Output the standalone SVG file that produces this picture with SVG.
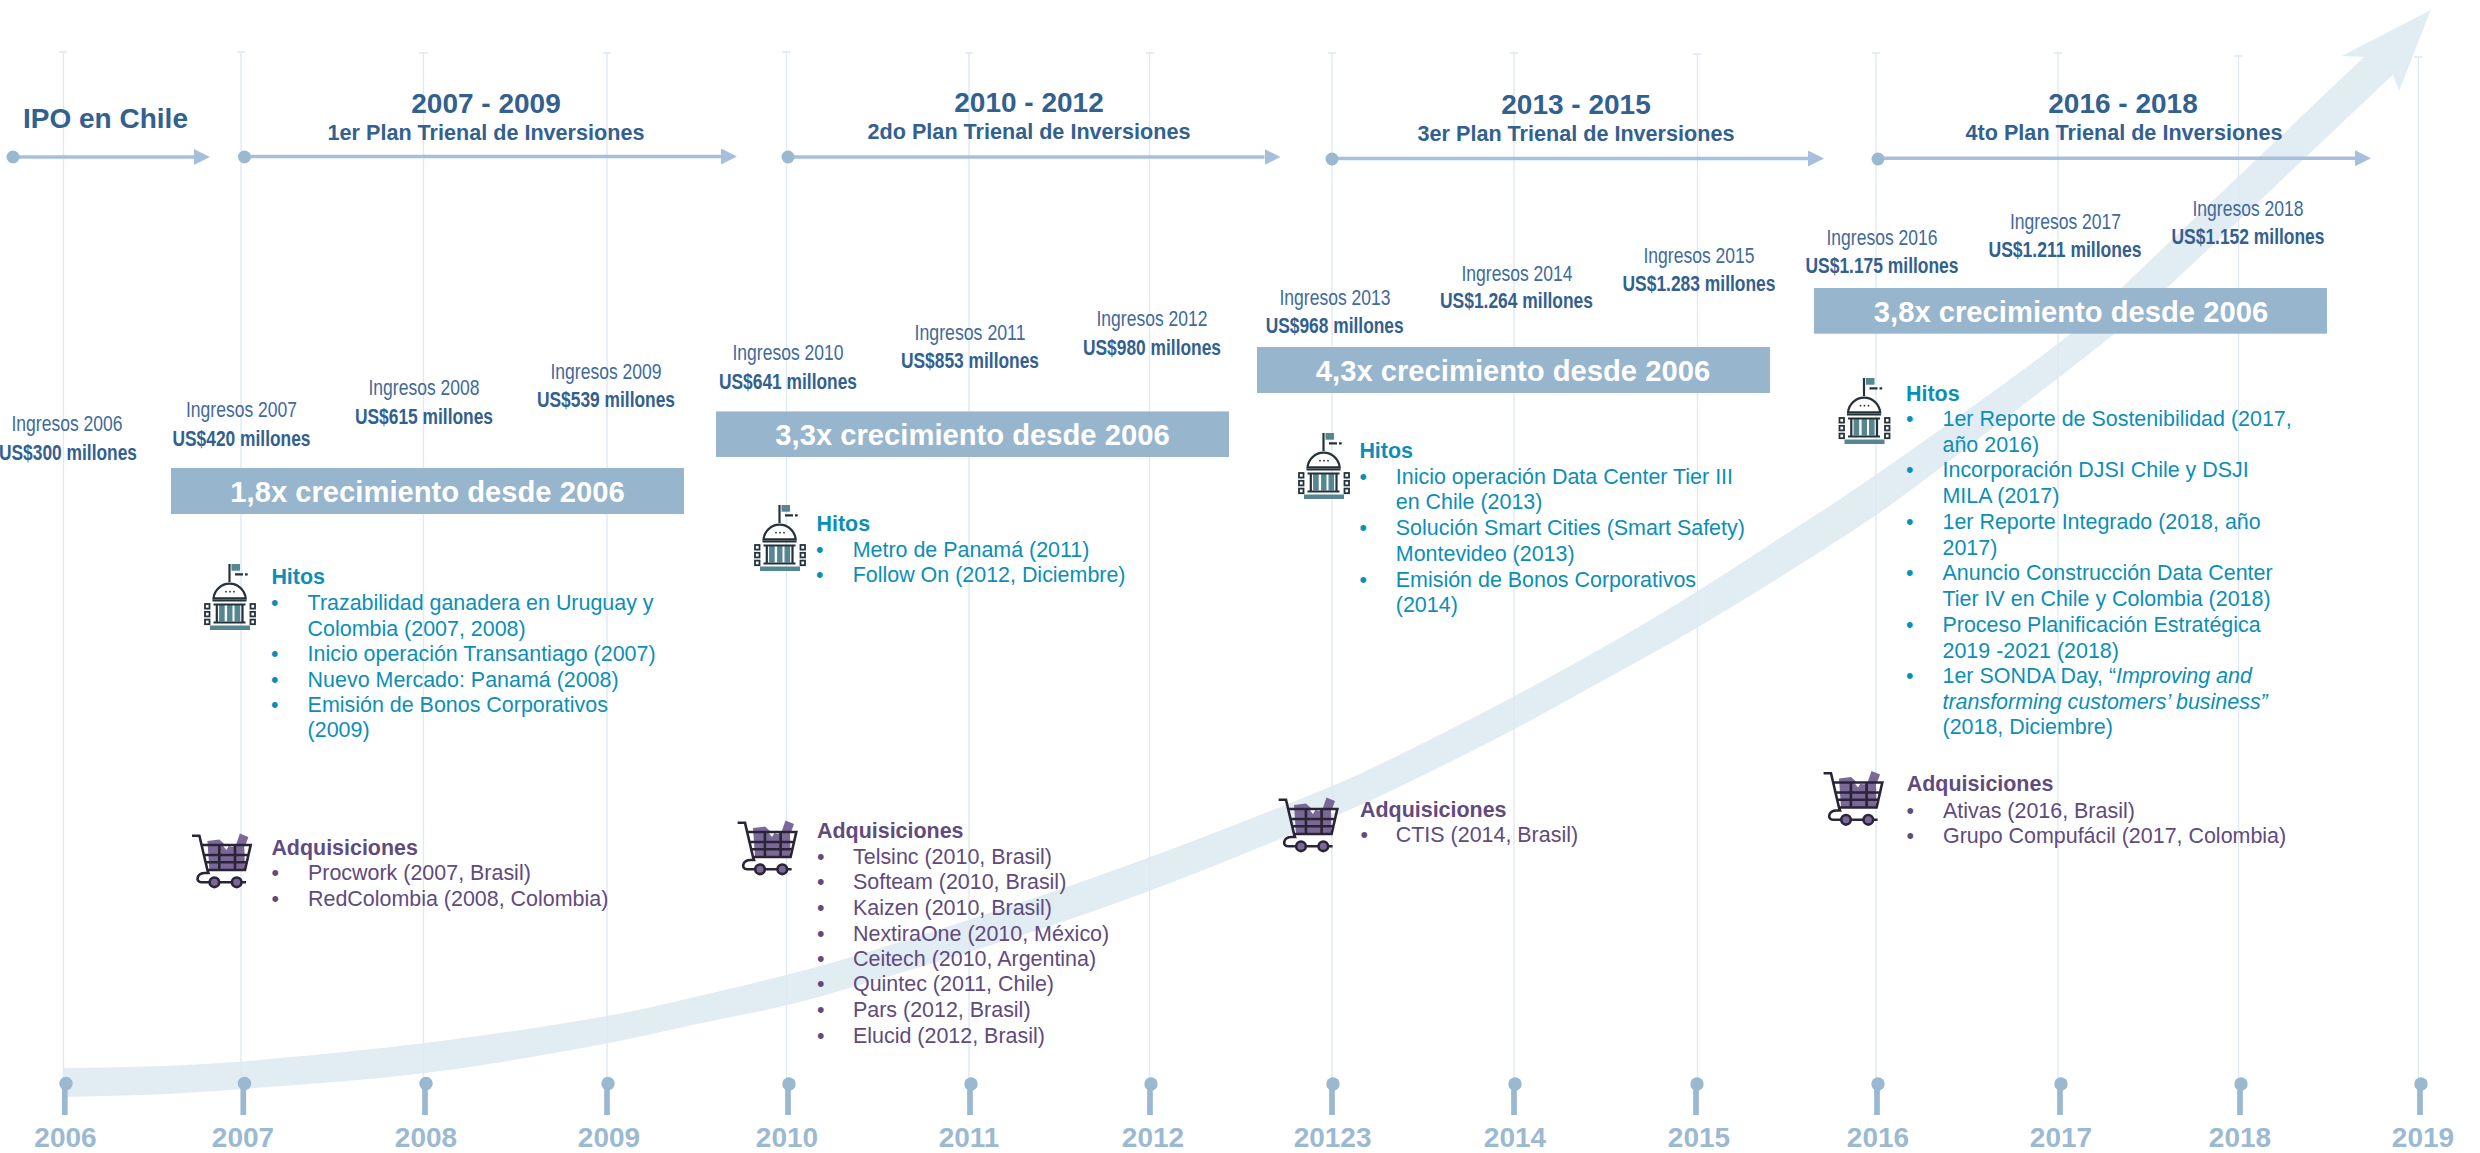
<svg xmlns="http://www.w3.org/2000/svg" xmlns:xlink="http://www.w3.org/1999/xlink" width="2480" height="1153" viewBox="0 0 2480 1153">
<style>
text{font-family:"Liberation Sans",Arial,sans-serif}
.t{font-size:28px;font-weight:700;fill:#32608f;text-anchor:middle}
.p{font-size:21.6px;font-weight:700;fill:#32608f;text-anchor:middle}
.y{font-size:28px;font-weight:700;fill:#9cb9d2;text-anchor:middle}
.i{font-size:21.5px;fill:#3f6a9a;text-anchor:middle}
.v{font-size:22px;font-weight:700;fill:#32608f;text-anchor:middle}
.g{font-size:29.2px;font-weight:700;fill:#fff;text-anchor:middle}
.bn{fill:#97b5cd}
.hh{font-size:21.45px;font-weight:700;fill:#0c8eb7}
.hb{font-size:21.45px;fill:#0c8eb7}
.ah{font-size:21.45px;font-weight:700;fill:#604a7e}
.ab{font-size:21.45px;fill:#604a7e}
.vl{stroke:#dfe8f3;stroke-width:1.4;fill:none}
.st{stroke:#9ab8d0;stroke-width:5.7}
.dot{fill:#9ab8d0}
.ar{stroke:#a5bfdc;stroke-width:3.6;fill:none;marker-end:url(#head)}
.d{stroke:#24323a;stroke-width:2.2;fill:none}
.df{fill:#24323a}
.te{fill:#568690}
.pu{fill:#7a6896}
.c{stroke:#2a2438;stroke-width:2.6;fill:none}
</style>
<defs>
<marker id="head" markerUnits="userSpaceOnUse" markerWidth="16" markerHeight="16" refX="0" refY="8" orient="auto"><path d="M0 0L16 8L0 16Z" fill="#a5bfdc"/></marker>
<g id="bld">
<rect class="te" x="27" y="0" width="8.5" height="6.7"/>
<path class="d" d="M25 0V18M30.5 10.3H38.5M40.5 10.3H43.2"/>
<path d="M9 34.3A16.2 16.5 0 0 1 41.2 34.3Z" fill="#fff" stroke="#24323a" stroke-width="2.2"/>
<circle class="df" cx="21.5" cy="27.7" r=".9"/><circle class="df" cx="25.5" cy="27.7" r=".9"/><circle class="df" cx="29.5" cy="27.7" r=".9"/>
<rect class="te" x="14.6" y="41" width="5.6" height="16.5"/><rect class="te" x="22.6" y="41" width="5.4" height="16.5"/><rect class="te" x="30" y="41" width="5.6" height="16.5"/>
<path class="d" d="M8 36.5H42M9 40.5H41M12.3 40.5V58M38 40.5V58M9 58.5H41"/>
<rect class="te" x="5.5" y="61.5" width="40" height="4.5"/>
<g fill="none" stroke="#24323a" stroke-width="1.8"><rect x=".5" y="40" width="4.5" height="4.6"/><rect x=".5" y="47.8" width="4.5" height="4.6"/><rect x=".5" y="55.6" width="4.5" height="4.6"/><rect x="46" y="40" width="4.5" height="4.6"/><rect x="46" y="47.8" width="4.5" height="4.6"/><rect x="46" y="55.6" width="4.5" height="4.6"/></g>
</g>
<g id="cart">
<path class="pu" d="M15 8L27 6.5L33 12L40 14L43.5 12L47.5 .5L56 4L52 15L52.5 37H17Z"/>
<path d="M30 12L37 12L34 17ZM52 12H57L56 16L52 16Z" fill="#fff"/>
<path class="c" d="M-.4 2.7H7L15 37H52.6L58.3 12H8.5M11.5 22H55.6M13.4 29.3H54M26.9 12V37M42.6 12V37M15 37L16 40H12.5C4 40 3 49.3 9 49.3H53.6"/>
<circle class="pu" cx="22" cy="49.3" r="4.8" stroke="#2a2438" stroke-width="2.6"/>
<circle class="pu" cx="44.3" cy="49.3" r="4.8" stroke="#2a2438" stroke-width="2.6"/>
</g>
</defs>
<rect width="2480" height="1153" fill="#fff"/>
<path id="growth-arrow" fill="#e2ecf3" d="M64 1068 Q150 1067 196.5 1064.5 Q243 1062 334.5 1053 Q426 1044 517 1030.5 Q608 1017 654 1006.5 Q700 996 743.5 985.5 Q787 975 818.5 966.5 Q850 958 925 934 Q1000 910 1075 884 Q1150 858 1241 822.5 Q1332 787 1366 771 Q1400 755 1457 726 Q1514 697 1565.5 668.5 Q1617 640 1657 616 Q1697 592 1738.5 565 Q1780 538 1825 509 Q1870 480 1972.5 406.5 Q2075 333 2098 310.5 Q2121 288 2364 57 L2341.7 56 L2430.7 10 L2399.3 90.7 L2392.7 74.7 Q2168 288 2140 312.5 Q2112 337 2018.5 408.5 Q1925 480 1892.5 503.5 Q1860 527 1778.5 578 Q1697 629 1648.5 655.5 Q1600 682 1557 706 Q1514 730 1457 758.5 Q1400 787 1366 802.5 Q1332 818 1241 855 Q1150 892 1075 917.5 Q1000 943 925 965.5 Q850 988 818.5 997 Q787 1006 743.5 1014.5 Q700 1023 654 1033.5 Q608 1044 517 1059.5 Q426 1075 334.5 1082 Q243 1089 196.5 1092.3 Q150 1095.5 64 1097 Z"/>
<g id="year-gridlines">
<path class="vl" d="M59 52H67M63.5 52V1080M237 52H245M241 52V1080M419 53H428M423.5 53V1080M603 53H611M607 53V1080M782 52H790M786.5 52V1080M965 53H973M969 53V1080M1146 53H1154M1149.5 53V1080M1328 53H1336M1332 53V1080M1510 53H1518M1514 53V1080M1693 54H1701M1697.5 54V1080M1872 53H1880M1876 53V1080M2054 53H2062M2058 53V1080M2234 56H2242M2238.5 56V1080M2414 57H2422.5M2418.3 57V1080"/>
</g>
<g id="connectors">
<line class="ar" x1="13" y1="157" x2="194" y2="157"/>
<line class="ar" x1="244.5" y1="156.5" x2="721" y2="156.5"/>
<line class="ar" x1="788" y1="157" x2="1264.5" y2="157"/>
<line class="ar" x1="1332" y1="158.5" x2="1808" y2="158.5"/>
<line class="ar" x1="1878" y1="158.3" x2="2355" y2="158.3"/>
<circle class="dot" cx="13" cy="157" r="6.5"/><circle class="dot" cx="244.5" cy="157" r="6.5"/><circle class="dot" cx="788" cy="157" r="6.5"/><circle class="dot" cx="1332" cy="159" r="6.5"/><circle class="dot" cx="1878" cy="159" r="6.5"/>
</g>
<g id="plan-labels">
<text class="t" x="105.5" y="128">IPO en Chile</text>
<text class="t" x="486" y="112.5">2007 - 2009</text><text class="p" x="486" y="140">1er Plan Trienal de Inversiones</text>
<text class="t" x="1029" y="112">2010 - 2012</text><text class="p" x="1029" y="139">2do Plan Trienal de Inversiones</text>
<text class="t" x="1576" y="113.8">2013 - 2015</text><text class="p" x="1576" y="141">3er Plan Trienal de Inversiones</text>
<text class="t" x="2123" y="112.7">2016 - 2018</text><text class="p" x="2124" y="140">4to Plan Trienal de Inversiones</text>
</g>
<g id="years">
<g id="y2006"><circle class="dot" cx="66" cy="1083.5" r="6.7"/><line class="st" x1="64.8" y1="1084" x2="64.8" y2="1115"/><text class="y" x="65.5" y="1147">2006</text></g>
<g id="y2007"><circle class="dot" cx="244.5" cy="1083.5" r="6.7"/><line class="st" x1="243.3" y1="1084" x2="243.3" y2="1115"/><text class="y" x="243" y="1147">2007</text></g>
<g id="y2008"><circle class="dot" cx="426" cy="1083.5" r="6.7"/><line class="st" x1="425" y1="1084" x2="425" y2="1115"/><text class="y" x="426" y="1147">2008</text></g>
<g id="y2009"><circle class="dot" cx="608" cy="1083.5" r="6.7"/><line class="st" x1="607" y1="1084" x2="607" y2="1115"/><text class="y" x="609" y="1147">2009</text></g>
<g id="y2010"><circle class="dot" cx="789" cy="1084" r="6.7"/><line class="st" x1="788" y1="1084" x2="788" y2="1115"/><text class="y" x="787" y="1147">2010</text></g>
<g id="y2011"><circle class="dot" cx="971" cy="1084" r="6.7"/><line class="st" x1="970" y1="1084" x2="970" y2="1115"/><text class="y" x="969" y="1147">2011</text></g>
<g id="y2012"><circle class="dot" cx="1151" cy="1084" r="6.7"/><line class="st" x1="1150" y1="1084" x2="1150" y2="1115"/><text class="y" x="1153" y="1147">2012</text></g>
<g id="y2013"><circle class="dot" cx="1333" cy="1084" r="6.7"/><line class="st" x1="1332" y1="1084" x2="1332" y2="1115"/><text class="y" x="1332.6" y="1147">20123</text></g>
<g id="y2014"><circle class="dot" cx="1515" cy="1084" r="6.7"/><line class="st" x1="1514" y1="1084" x2="1514" y2="1115"/><text class="y" x="1515" y="1147">2014</text></g>
<g id="y2015"><circle class="dot" cx="1697" cy="1084" r="6.7"/><line class="st" x1="1696" y1="1084" x2="1696" y2="1115"/><text class="y" x="1699" y="1147">2015</text></g>
<g id="y2016"><circle class="dot" cx="1878" cy="1084" r="6.7"/><line class="st" x1="1877" y1="1084" x2="1877" y2="1115"/><text class="y" x="1878" y="1147">2016</text></g>
<g id="y2017"><circle class="dot" cx="2061" cy="1084" r="6.7"/><line class="st" x1="2060" y1="1084" x2="2060" y2="1115"/><text class="y" x="2061" y="1147">2017</text></g>
<g id="y2018"><circle class="dot" cx="2241" cy="1084" r="6.7"/><line class="st" x1="2240" y1="1084" x2="2240" y2="1115"/><text class="y" x="2240" y="1147">2018</text></g>
<g id="y2019"><circle class="dot" cx="2421" cy="1084" r="6.7"/><line class="st" x1="2420" y1="1084" x2="2420" y2="1115"/><text class="y" x="2423" y="1147">2019</text></g>
</g>
<g id="revenues">
<g id="r2006"><text class="i" x="67" y="431.4" textLength="111" lengthAdjust="spacingAndGlyphs">Ingresos 2006</text><text class="v" x="68" y="460" textLength="138" lengthAdjust="spacingAndGlyphs">US$300 millones</text></g>
<g id="r2007"><text class="i" x="241.5" y="417" textLength="111" lengthAdjust="spacingAndGlyphs">Ingresos 2007</text><text class="v" x="241.5" y="446.4" textLength="138" lengthAdjust="spacingAndGlyphs">US$420 millones</text></g>
<g id="r2008"><text class="i" x="424" y="395" textLength="111" lengthAdjust="spacingAndGlyphs">Ingresos 2008</text><text class="v" x="424" y="424" textLength="138" lengthAdjust="spacingAndGlyphs">US$615 millones</text></g>
<g id="r2009"><text class="i" x="606" y="379" textLength="111" lengthAdjust="spacingAndGlyphs">Ingresos 2009</text><text class="v" x="606" y="407" textLength="138" lengthAdjust="spacingAndGlyphs">US$539 millones</text></g>
<g id="r2010"><text class="i" x="788" y="360" textLength="111" lengthAdjust="spacingAndGlyphs">Ingresos 2010</text><text class="v" x="788" y="388.5" textLength="138" lengthAdjust="spacingAndGlyphs">US$641 millones</text></g>
<g id="r2011"><text class="i" x="970" y="339.5" textLength="111" lengthAdjust="spacingAndGlyphs">Ingresos 2011</text><text class="v" x="970" y="368" textLength="138" lengthAdjust="spacingAndGlyphs">US$853 millones</text></g>
<g id="r2012"><text class="i" x="1152" y="326" textLength="111" lengthAdjust="spacingAndGlyphs">Ingresos 2012</text><text class="v" x="1152" y="355" textLength="138" lengthAdjust="spacingAndGlyphs">US$980 millones</text></g>
<g id="r2013"><text class="i" x="1335" y="305" textLength="111" lengthAdjust="spacingAndGlyphs">Ingresos 2013</text><text class="v" x="1334.7" y="333" textLength="138" lengthAdjust="spacingAndGlyphs">US$968 millones</text></g>
<g id="r2014"><text class="i" x="1517" y="280.6" textLength="111" lengthAdjust="spacingAndGlyphs">Ingresos 2014</text><text class="v" x="1516.5" y="308" textLength="153" lengthAdjust="spacingAndGlyphs">US$1.264 millones</text></g>
<g id="r2015"><text class="i" x="1699" y="263" textLength="111" lengthAdjust="spacingAndGlyphs">Ingresos 2015</text><text class="v" x="1699" y="290.5" textLength="153" lengthAdjust="spacingAndGlyphs">US$1.283 millones</text></g>
<g id="r2016"><text class="i" x="1882" y="245" textLength="111" lengthAdjust="spacingAndGlyphs">Ingresos 2016</text><text class="v" x="1882" y="272.7" textLength="153" lengthAdjust="spacingAndGlyphs">US$1.175 millones</text></g>
<g id="r2017"><text class="i" x="2065.5" y="229" textLength="111" lengthAdjust="spacingAndGlyphs">Ingresos 2017</text><text class="v" x="2065" y="256.7" textLength="153" lengthAdjust="spacingAndGlyphs">US$1.211 millones</text></g>
<g id="r2018"><text class="i" x="2248" y="216" textLength="111" lengthAdjust="spacingAndGlyphs">Ingresos 2018</text><text class="v" x="2248" y="244" textLength="153" lengthAdjust="spacingAndGlyphs">US$1.152 millones</text></g>
</g>
<g id="banner-1"><rect class="bn" x="171" y="468" width="513" height="46"/><text class="g" x="427.5" y="502">1,8x crecimiento desde 2006</text></g>
<g id="banner-2"><rect class="bn" x="716" y="411.4" width="513" height="45.6"/><text class="g" x="972.5" y="445">3,3x crecimiento desde 2006</text></g>
<g id="banner-3"><rect class="bn" x="1257" y="347" width="513" height="46"/><text class="g" x="1513" y="380.5">4,3x crecimiento desde 2006</text></g>
<g id="banner-4"><rect class="bn" x="1814" y="288" width="513" height="45.7"/><text class="g" x="2071" y="321.7">3,8x crecimiento desde 2006</text></g>
<g id="hitos-1"><use xlink:href="#bld" href="#bld" x="204.5" y="564"/>
<text class="hh" x="271.4" y="584">Hitos</text>
<text class="hb"><tspan x="271" y="609.7">•</tspan><tspan x="307.6">Trazabilidad ganadera en Uruguay y</tspan></text>
<text class="hb" x="307.6" y="635.6">Colombia (2007, 2008)</text>
<text class="hb"><tspan x="271" y="661">•</tspan><tspan x="307.6">Inicio operación Transantiago (2007)</tspan></text>
<text class="hb"><tspan x="271" y="686.6">•</tspan><tspan x="307.6">Nuevo Mercado: Panamá (2008)</tspan></text>
<text class="hb"><tspan x="271" y="712.2">•</tspan><tspan x="307.6">Emisión de Bonos Corporativos</tspan></text>
<text class="hb" x="307.6" y="737.4">(2009)</text>
</g>
<g id="adq-1"><use xlink:href="#cart" href="#cart" x="192.4" y="833"/>
<text class="ah" x="271.4" y="855">Adquisiciones</text>
<text class="ab"><tspan x="271.5" y="880">•</tspan><tspan x="308">Procwork (2007, Brasil)</tspan></text>
<text class="ab"><tspan x="271.5" y="906">•</tspan><tspan x="308">RedColombia (2008, Colombia)</tspan></text>
</g>
<g id="hitos-2"><use xlink:href="#bld" href="#bld" x="754.5" y="505"/>
<text class="hh" x="816.5" y="531">Hitos</text>
<text class="hb"><tspan x="816" y="557">•</tspan><tspan x="852.7">Metro de Panamá (2011)</tspan></text>
<text class="hb"><tspan x="816" y="582.4">•</tspan><tspan x="852.7">Follow On (2012, Diciembre)</tspan></text>
</g>
<g id="adq-2"><use xlink:href="#cart" href="#cart" x="738" y="820"/>
<text class="ah" x="817" y="838">Adquisiciones</text>
<text class="ab"><tspan x="817" y="863.6">•</tspan><tspan x="853">Telsinc (2010, Brasil)</tspan></text>
<text class="ab"><tspan x="817" y="889.2">•</tspan><tspan x="853">Softeam (2010, Brasil)</tspan></text>
<text class="ab"><tspan x="817" y="914.6">•</tspan><tspan x="853">Kaizen (2010, Brasil)</tspan></text>
<text class="ab"><tspan x="817" y="940.6">•</tspan><tspan x="853">NextiraOne (2010, México)</tspan></text>
<text class="ab"><tspan x="817" y="966.2">•</tspan><tspan x="853">Ceitech (2010, Argentina)</tspan></text>
<text class="ab"><tspan x="817" y="991.4">•</tspan><tspan x="853">Quintec (2011, Chile)</tspan></text>
<text class="ab"><tspan x="817" y="1017.4">•</tspan><tspan x="853">Pars (2012, Brasil)</tspan></text>
<text class="ab"><tspan x="817" y="1042.6">•</tspan><tspan x="853">Elucid (2012, Brasil)</tspan></text>
</g>
<g id="hitos-3"><use xlink:href="#bld" href="#bld" x="1298.5" y="433"/>
<text class="hh" x="1359.4" y="458.2">Hitos</text>
<text class="hb"><tspan x="1359.4" y="483.5">•</tspan><tspan x="1395.8">Inicio operación Data Center Tier III</tspan></text>
<text class="hb" x="1395.8" y="509">en Chile (2013)</text>
<text class="hb"><tspan x="1359.4" y="534.5">•</tspan><tspan x="1395.8">Solución Smart Cities (Smart Safety)</tspan></text>
<text class="hb" x="1395.8" y="560.6">Montevideo (2013)</text>
<text class="hb"><tspan x="1359.4" y="586.5">•</tspan><tspan x="1395.8">Emisión de Bonos Corporativos</tspan></text>
<text class="hb" x="1395.8" y="612">(2014)</text>
</g>
<g id="adq-3"><use xlink:href="#cart" href="#cart" x="1279" y="797"/>
<text class="ah" x="1360" y="816.7">Adquisiciones</text>
<text class="ab"><tspan x="1360.5" y="842.4">•</tspan><tspan x="1395.8">CTIS (2014, Brasil)</tspan></text>
</g>
<g id="hitos-4"><use xlink:href="#bld" href="#bld" x="1839" y="378"/>
<text class="hh" x="1906" y="401">Hitos</text>
<text class="hb"><tspan x="1906" y="425.5">•</tspan><tspan x="1942.5">1er Reporte de Sostenibilidad (2017,</tspan></text>
<text class="hb" x="1942.5" y="451.5">año 2016)</text>
<text class="hb"><tspan x="1906" y="477.3">•</tspan><tspan x="1942.5">Incorporación DJSI Chile y DSJI</tspan></text>
<text class="hb" x="1942.5" y="503.4">MILA (2017)</text>
<text class="hb"><tspan x="1906" y="529.2">•</tspan><tspan x="1942.5">1er Reporte Integrado (2018, año</tspan></text>
<text class="hb" x="1942.5" y="554.7">2017)</text>
<text class="hb"><tspan x="1906" y="580.4">•</tspan><tspan x="1942.5">Anuncio Construcción Data Center</tspan></text>
<text class="hb" x="1942.5" y="606.4">Tier IV en Chile y Colombia (2018)</text>
<text class="hb"><tspan x="1906" y="631.6">•</tspan><tspan x="1942.5">Proceso Planificación Estratégica</tspan></text>
<text class="hb" x="1942.5" y="657.6">2019 -2021 (2018)</text>
<text class="hb"><tspan x="1906" y="682.8">•</tspan><tspan x="1942.5">1er SONDA Day, “</tspan><tspan font-style="italic">Improving and</tspan></text>
<text class="hb" x="1942.5" y="708.8" font-style="italic">transforming customers’ business”</text>
<text class="hb" x="1942.5" y="734.4">(2018, Diciembre)</text>
</g>
<g id="adq-4"><use xlink:href="#cart" href="#cart" x="1824" y="770.5"/>
<text class="ah" x="1906.8" y="791">Adquisiciones</text>
<text class="ab"><tspan x="1906.5" y="817.5">•</tspan><tspan x="1943">Ativas (2016, Brasil)</tspan></text>
<text class="ab"><tspan x="1906.5" y="843">•</tspan><tspan x="1943">Grupo Compufácil (2017, Colombia)</tspan></text>
</g>
</svg>
